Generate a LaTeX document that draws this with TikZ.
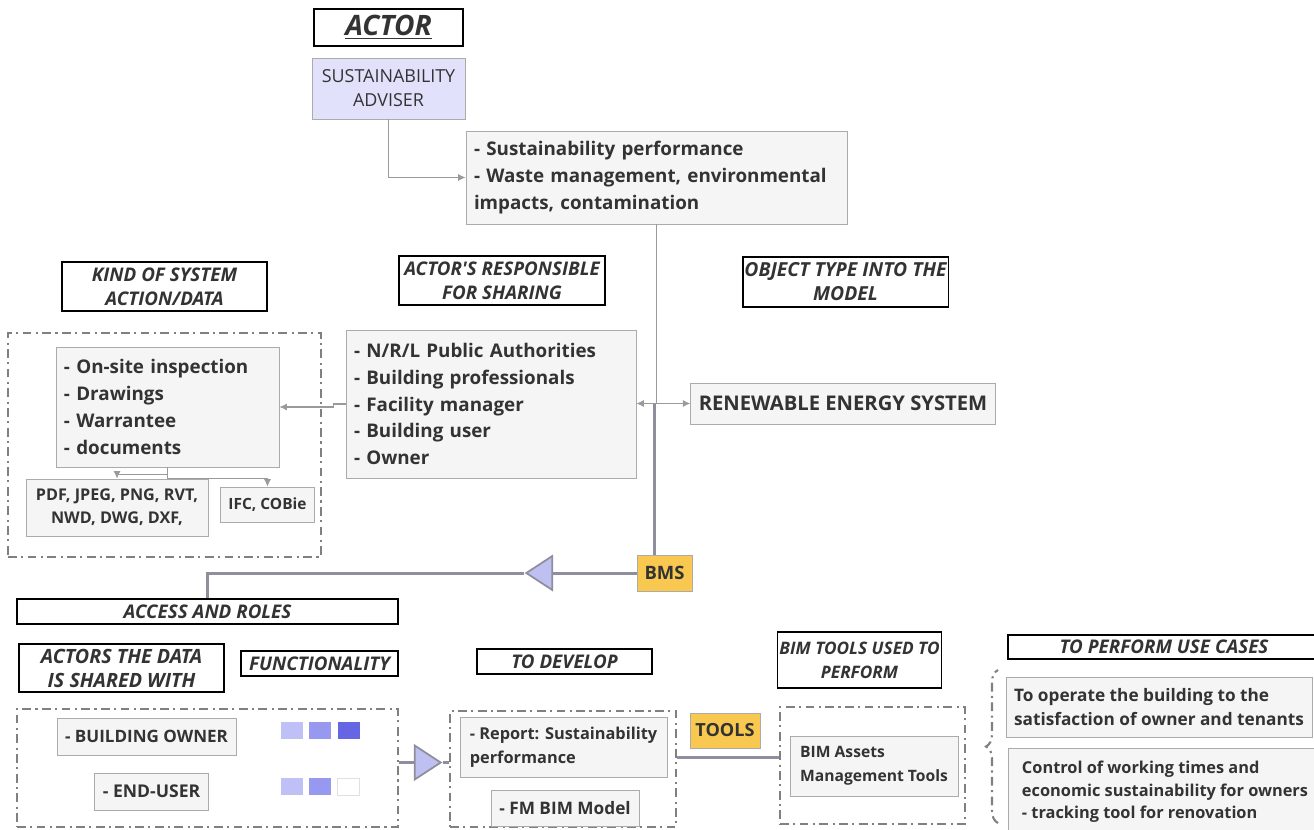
\documentclass[tikz,border=0pt]{standalone}
\usepackage{fontspec}
\setmainfont{Open Sans}
\usetikzlibrary{arrows.meta,shapes.geometric,decorations.pathreplacing}

\definecolor{boxgray}{HTML}{F5F5F5}
\definecolor{edgegray}{HTML}{ABABAB}
\definecolor{inkgray}{HTML}{333333}
\definecolor{advfill}{HTML}{E1E1FB}
\definecolor{trifill}{HTML}{BFC0F2}
\definecolor{busgray}{HTML}{8E8E9C}
\definecolor{linkgray}{HTML}{9A9A9A}
\definecolor{bmsgold}{HTML}{F8C850}
\definecolor{sqA}{HTML}{BFC1F6}
\definecolor{sqB}{HTML}{9799F1}
\definecolor{sqC}{HTML}{6466E3}

\hyphenpenalty=10000

\tikzset{
  hdr/.style={draw=black,line width=0.9pt,fill=white,text=inkgray,align=center,inner sep=1pt,font=\fontsize{10.7}{13.7}\selectfont\bfseries\itshape},
  item/.style={draw=edgegray,fill=boxgray,text=inkgray,align=left,inner xsep=1.6mm,inner ysep=1pt,font=\fontsize{10.7}{15.2}\selectfont\bfseries},
  fmtbox/.style={item,align=center,font=\fontsize{9.2}{13}\selectfont\bfseries},
  gold/.style={draw=edgegray,fill=bmsgold,text=inkgray,inner sep=1pt},
  grp/.style={draw=gray,line width=1.2pt,dash pattern=on 5pt off 2.5pt on 1.2pt off 2.5pt},
  tri/.style={isosceles triangle,isosceles triangle stretches,draw=busgray,line width=1pt,fill=trifill,inner sep=0pt,minimum height=5.2mm,minimum width=6.8mm},
  bus/.style={draw=busgray,line width=1.7pt},
  link/.style={draw=linkgray,line width=0.6pt,-{Latex[length=1.5mm,width=1.4mm]}},
  sq/.style={minimum width=4.4mm,minimum height=3.4mm,inner sep=0pt}
}

\begin{document}
\begin{tikzpicture}[x=0.2mm,y=-0.2mm,>=Latex]
\useasboundingbox (0,0) rectangle (1314,829);

% actor and what it is responsible for
\node[hdr,minimum width=29.8mm,minimum height=7.4mm,font=\fontsize{16}{18}\selectfont\bfseries\itshape] (actor) at (388.5,27.5) {\underline{ACTOR}};
\node[draw=edgegray,fill=advfill,text=inkgray,align=center,minimum width=30.6mm,minimum height=12.2mm,font=\fontsize{10.2}{13.7}\selectfont] (adviser) at (388.5,88.5) {SUSTAINABILITY\\ADVISER};
\node[item,text width=73mm,minimum height=18.6mm] (perf) at (656.5,177.5) {- Sustainability performance\\- Waste management, environmental\\impacts, contamination};

% column headers
\node[hdr,minimum width=41mm,minimum height=9.8mm] (kindhdr) at (164.5,286.5) {KIND OF SYSTEM\\ACTION/DATA};
\node[hdr,minimum width=41.2mm,minimum height=9.8mm] (resphdr) at (502,280.5) {ACTOR\textquotesingle S RESPONSIBLE\\FOR SHARING};
\node[hdr,minimum width=41mm,minimum height=10mm,font=\fontsize{11}{13.7}\selectfont\bfseries\itshape] (objhdr) at (845.5,282) {OBJECT TYPE INTO THE\\MODEL};

% system / data group
\node[grp,minimum width=62.6mm,minimum height=44.8mm] (grp1) at (164.5,445) {};
\node[item,text width=41.4mm,minimum height=24mm] (inspect) at (167.5,407) {- On-site inspection\\- Drawings\\- Warrantee\\- documents};
\node[fmtbox,minimum width=36.4mm,minimum height=11.4mm] (formats) at (117,507.5) {PDF, JPEG, PNG, RVT,\\NWD, DWG, DXF,};
\node[fmtbox,minimum width=18.6mm,minimum height=7mm,font=\fontsize{8.8}{11}\selectfont\bfseries] (ifc) at (267.5,504.5) {IFC, COBie};

% sharing actors and object type
\node[item,text width=54.8mm,minimum height=29.6mm] (resp) at (491,404) {- N/R/L Public Authorities\\- Building professionals\\- Facility manager\\- Building user\\- Owner};
\node[item,align=center,minimum width=60mm,minimum height=8.2mm,font=\fontsize{11.5}{14}\selectfont\bfseries] (res) at (843,403.5) {RENEWABLE ENERGY SYSTEM};
\node[gold,minimum width=11mm,minimum height=7.2mm,font=\fontsize{10.5}{12}\selectfont\bfseries] (bms) at (664.5,573) {BMS};

\draw[link] (adviser.south) |- (perf.west);
\coordinate (jn) at (perf.south |- res.west);
\draw[draw=linkgray,line width=0.6pt] (perf.south) -- (jn);
\draw[link] (jn) -- (jn -| resp.east);
\draw[link] (jn) -- (res.west);
\draw[bus] ([xshift=-0.4mm]jn) -- ([xshift=-0.4mm]jn |- bms.north);
\draw[link] (resp.west) -- ++(-12,0) |- (inspect.east);
\draw[link] (inspect.south) -- ++(0,7) -| (formats.north);
\draw[link] (inspect.south) -- ++(0,11) -| (ifc.north);

% lower headers
\node[hdr,minimum width=76.2mm,minimum height=5mm] (access) at (207.5,611.5) {ACCESS AND ROLES};
\node[hdr,minimum width=41mm,minimum height=9.6mm,font=\fontsize{11.2}{13.7}\selectfont\bfseries\itshape] (actorsw) at (121.5,668) {ACTORS THE DATA\\IS SHARED WITH};
\node[hdr,minimum width=31.4mm,minimum height=5mm] (func) at (319.5,663.5) {FUNCTIONALITY};
\node[hdr,minimum width=35mm,minimum height=5mm] (todev) at (564.5,661.5) {TO DEVELOP};
\node[hdr,minimum width=32.6mm,minimum height=11.2mm,font=\fontsize{9.8}{13.7}\selectfont\bfseries\itshape] (bimtools) at (859.5,660) {BIM TOOLS USED TO\\PERFORM};
\node[hdr,minimum width=62.4mm,minimum height=4.8mm] (usecases) at (1164,647) {TO PERFORM USE CASES};

\node[tri,shape border rotate=180,anchor=apex] (mid1) at (524,573) {};
\draw[bus] (bms.west) -- (mid1);
\draw[bus] (mid1.apex) -| (access.north);

% who the data is shared with
\node[grp,minimum width=76.2mm,minimum height=23.6mm] (grp2) at (207.5,768) {};
\node[item,align=center,minimum width=35.8mm,minimum height=7.4mm,font=\fontsize{9.7}{12}\selectfont\bfseries] (owner) at (146.5,736.5) {- BUILDING OWNER};
\node[item,align=center,minimum width=22.6mm,minimum height=7.4mm,font=\fontsize{10}{12}\selectfont\bfseries] (enduser) at (151.5,791.5) {- END-USER};
\node[sq,fill=sqA] (own1) at (292,730.5) {};
\node[sq,fill=sqB] (own2) at (320,730.5) {};
\node[sq,fill=sqC] (own3) at (348.5,730.5) {};
\node[sq,fill=sqA] (usr1) at (292,786.5) {};
\node[sq,fill=sqB] (usr2) at (320,786.5) {};
\node[sq,draw=black!12,fill=white] (usr3) at (348.5,786.5) {};

% what to develop
\node[grp,minimum width=45.2mm,minimum height=23.2mm] (grp3) at (563,769) {};
\node[item,minimum width=41.4mm,minimum height=12mm,font=\fontsize{9.3}{13.7}\selectfont\bfseries] (report) at (563.5,747) {- Report: Sustainability\\performance};
\node[item,align=center,minimum width=29.6mm,minimum height=7.2mm,font=\fontsize{9.8}{12}\selectfont\bfseries] (fmbim) at (565,808) {- FM BIM Model};
\node[gold,minimum width=14mm,minimum height=7mm,font=\fontsize{10.3}{12}\selectfont\bfseries] (tools) at (725,730.5) {TOOLS};

\node[tri,anchor=apex] (mid2) at (443,762.5) {};
\draw[bus] (mid2 -| grp2.east) -- (mid2);
\draw[bus] (mid2.apex) -- (mid2.apex -| grp3.west);

% bim tools
\node[grp,minimum width=37mm,minimum height=23.4mm] (grp4) at (872.5,765.5) {};
\node[item,minimum width=33.6mm,minimum height=12mm,font=\fontsize{8.9}{13.7}\selectfont\bfseries] (assets) at (874,766) {BIM Assets\\Management Tools};
\coordinate (tl) at ([yshift=2.4mm]grp3.east);
\draw[bus] (tl) -- (tl -| grp4.west);

% use cases
\draw[grp,decorate,decoration={brace,amplitude=2.4mm}] (998,823) -- (998,670);
\node[item,minimum width=58.8mm,minimum height=12mm,font=\fontsize{9.8}{13.6}\selectfont\bfseries] (operate) at (1159,707) {To operate the building to the\\satisfaction of owner and tenants};
\node[item,minimum width=62.8mm,minimum height=17.6mm,font=\fontsize{9.3}{12.8}\selectfont\bfseries] (control) at (1165,792) {Control of working times and\\economic sustainability for owners\\- tracking tool for renovation};
\end{tikzpicture}
\end{document}
